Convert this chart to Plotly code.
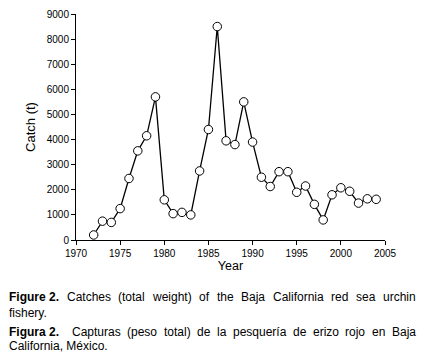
import plotly.graph_objects as go

years = list(range(1972, 2005))
catch_t = [200, 750, 700, 1250, 2450, 3550, 4150, 5700, 1600, 1050,
           1100, 1000, 2750, 4400, 8500, 3950, 3800, 5500, 3900, 2500,
           2130, 2720, 2720, 1900, 2150, 1420, 800, 1800, 2080, 1940,
           1470, 1640, 1620]

x_ticks = [1970, 1975, 1980, 1985, 1990, 1995, 2000, 2005]
y_ticks = [0, 1000, 2000, 3000, 4000, 5000, 6000, 7000, 8000, 9000]

caption_en = ["<b>Figure 2.</b>", "Catches", "(total", "weight)", "of", "the",
              "Baja", "California", "red", "sea", "urchin"]
caption_en_2 = "fishery."
caption_es = ["<b>Figura 2.</b>", "", "Capturas", "(peso", "total)", "de", "la",
              "pesquería", "de", "erizo", "rojo", "en", "Baja"]
caption_es_2 = "California, México."

W, H = 421, 364
L, R, T, B = 76, 36, 8, 124
PW, PH = W - L - R, H - T - B
FONT = "Liberation Sans, Arial, sans-serif"

fig = go.Figure()
fig.add_trace(go.Scatter(
    x=years, y=catch_t, mode="lines+markers",
    line=dict(color="black", width=1.3),
    marker=dict(symbol="circle", size=8.5, color="white",
                line=dict(color="black", width=1)),
    cliponaxis=False, showlegend=False, hoverinfo="skip"))

axis_common = dict(showgrid=False, zeroline=False, showline=True,
                   linecolor="black", linewidth=1, ticks="outside",
                   ticklen=4, tickwidth=1, tickcolor="black",
                   tickfont=dict(family=FONT, size=10, color="black"))
fig.update_xaxes(range=[1970, 2005], tickvals=x_ticks, **axis_common,
                 title=dict(text="Year", font=dict(family=FONT, size=12.5, color="black"),
                            standoff=3))
fig.update_yaxes(range=[0, 9000], tickvals=y_ticks, tickformat="d", **axis_common,
                 title=dict(text="Catch (t)", font=dict(family=FONT, size=13, color="black"),
                            standoff=8))

# Arial / Liberation Sans advance widths (per 1000 em)
REG = {' ': 278, '(': 333, ')': 333, '.': 278, ',': 278, '2': 556,
       'a': 556, 'b': 556, 'c': 500, 'd': 556, 'e': 556, 'f': 278, 'g': 556,
       'h': 556, 'i': 222, 'j': 222, 'k': 500, 'l': 222, 'm': 833, 'n': 556,
       'o': 556, 'p': 556, 'q': 556, 'r': 333, 's': 500, 't': 278, 'u': 556,
       'v': 500, 'w': 722, 'x': 500, 'y': 500, 'z': 500, 'í': 278, 'é': 556,
       'B': 667, 'C': 722, 'F': 611, 'M': 833}
BOLD = {'F': 611, 'i': 278, 'g': 611, 'u': 611, 'r': 389, 'e': 556,
        'a': 556, ' ': 278, '2': 556, '.': 278}
FS = 12


def word_width(w):
    if w.startswith("<b>"):
        t = w[3:-4]
        return sum(BOLD.get(c, 600) for c in t) * FS / 1000
    return sum(REG.get(c, 556) for c in w) * FS / 1000


def px_to_paper(px, py):
    return (px - L) / PW, (H - B - py) / PH


def justified(words, y, x0=9, x1=416):
    real = [w for w in words if w != ""]
    gaps = len(words) - 1
    total = sum(word_width(w) for w in real)
    g = (x1 - x0 - total) / gaps
    x = x0
    for w in words:
        if w == "":
            x += g
            continue
        ww = word_width(w)
        xp, yp = px_to_paper(x + ww / 2, y)
        fig.add_annotation(text=w, x=xp, y=yp, xref="paper", yref="paper",
                           xanchor="center", yanchor="middle",
                           showarrow=False, borderpad=0, borderwidth=0,
                           font=dict(family=FONT, size=FS, color="black"))
        x += ww + g


def left_line(text, y, x0=9):
    xp, yp = px_to_paper(x0, y)
    fig.add_annotation(text=text, x=xp, y=yp, xref="paper", yref="paper",
                       xanchor="left", yanchor="middle", showarrow=False,
                       borderpad=0, borderwidth=0,
                       font=dict(family=FONT, size=FS, color="black"))


justified(caption_en, 299)
left_line(caption_en_2, 315)
justified(caption_es, 334)
left_line(caption_es_2, 349)

fig.update_layout(width=W, height=H, autosize=False,
                  margin=dict(l=L, r=R, t=T, b=B, pad=0),
                  paper_bgcolor="white", plot_bgcolor="white",
                  hovermode=False,
                  font=dict(family=FONT, color="black"))
fig.write_html("out.html", config={"displayModeBar": False, "staticPlot": True},
               post_script="document.body.style.margin='0';"
                           "document.body.style.overflow='hidden';")
